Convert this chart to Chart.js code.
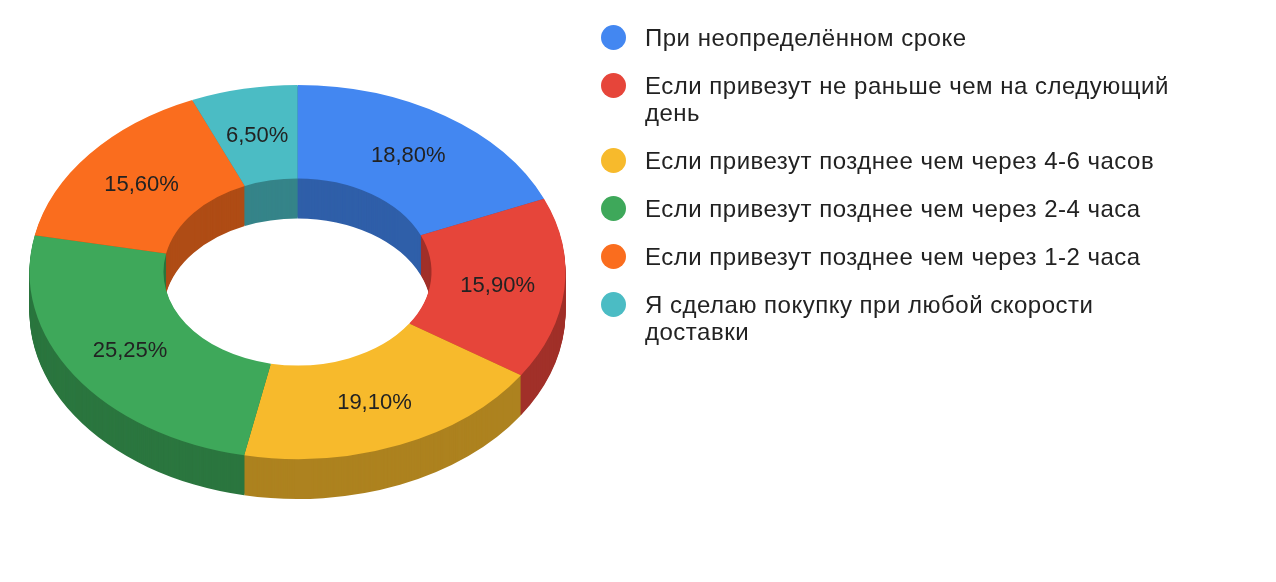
<!DOCTYPE html>
<html>
<head>
<meta charset="utf-8">
<script src="https://cdn.jsdelivr.net/npm/chart.js@4/dist/chart.umd.min.js"></script>
<style>
  html, body { margin: 0; padding: 0; background: #fff; }
  #wrap { position: relative; width: 1276px; height: 582px; overflow: hidden; }
  #chart { position: absolute; left: 0; top: 0; }
  #legend { position: absolute; left: 601px; top: 24px; font-family: "Liberation Sans", Arial, sans-serif; font-size: 24px; letter-spacing: 0.5px; color: #222; }
  .item { display: flex; align-items: flex-start; margin-bottom: 21px; }
  .dot { width: 25px; height: 25px; border-radius: 50%; margin-top: 1px; flex: none; }
  .txt { margin-left: 19px; width: 545px; line-height: 27px; }
</style>
</head>
<body>
<div id="wrap">
  <canvas id="chart" width="1276" height="582"></canvas>
  <div id="legend"></div>
</div>
<script>
// Данные
const labels = [
  "При неопределённом сроке",
  "Если привезут не раньше чем на следующий день",
  "Если привезут позднее чем через 4-6 часов",
  "Если привезут позднее чем через 2-4 часа",
  "Если привезут позднее чем через 1-2 часа",
  "Я сделаю покупку при любой скорости доставки"
];
const values = [18.80, 15.90, 19.10, 25.25, 15.60, 6.50];
const valueLabels = ["18,80%", "15,90%", "19,10%", "25,25%", "15,60%", "6,50%"];
const colors = ["#4387f1", "#e6453a", "#f7ba2c", "#3ea85a", "#fa6d1e", "#4bbcc4"];

// Параметры 3D
const tilt = 0.698;   // сжатие по вертикали
const depth = 40;     // высота боковой стенки

function darker(hex, f) {
  const n = parseInt(hex.slice(1), 16);
  const r = Math.round(((n >> 16) & 255) * f);
  const g = Math.round(((n >> 8) & 255) * f);
  const b = Math.round((n & 255) * f);
  return "rgb(" + r + "," + g + "," + b + ")";
}

// Легенда
const legendEl = document.getElementById("legend");
labels.forEach((l, i) => {
  const row = document.createElement("div");
  row.className = "item";
  row.innerHTML = '<div class="dot" style="background:' + colors[i] + '"></div><div class="txt"></div>';
  row.querySelector(".txt").textContent = l;
  legendEl.appendChild(row);
});

// Плагин: боковые стенки + сплющивание + подписи
const pie3d = {
  id: "pie3d",
  beforeDatasetsDraw(chart) {
    const ctx = chart.ctx;
    const arcs = chart.getDatasetMeta(0).data;
    ctx.save();
    for (let d = depth; d >= 1; d--) {
      arcs.forEach((a, i) => {
        const p = a.getProps(["x", "y", "startAngle", "endAngle", "innerRadius", "outerRadius"], true);
        ctx.beginPath();
        ctx.ellipse(p.x, p.y + d, p.outerRadius, p.outerRadius * tilt, 0, p.startAngle, p.endAngle);
        ctx.ellipse(p.x, p.y + d, p.innerRadius, p.innerRadius * tilt, 0, p.endAngle, p.startAngle, true);
        ctx.closePath();
        ctx.fillStyle = darker(colors[i], 0.7);
        ctx.fill();
      });
    }
    ctx.restore();

    const cy = arcs[0].y;
    ctx.save();
    ctx.translate(0, cy);
    ctx.scale(1, tilt);
    ctx.translate(0, -cy);
  },
  afterDatasetsDraw(chart) {
    const ctx = chart.ctx;
    ctx.restore();
    const arcs = chart.getDatasetMeta(0).data;
    ctx.save();
    ctx.font = '22px "Liberation Sans", Arial, sans-serif';
    ctx.fillStyle = "#222";
    ctx.textAlign = "center";
    ctx.textBaseline = "middle";
    arcs.forEach((a, i) => {
      const pos = a.tooltipPosition(true);
      const y = a.y + (pos.y - a.y) * tilt;
      ctx.fillText(valueLabels[i], pos.x, y + 1);
    });
    ctx.restore();
  }
};

new Chart(document.getElementById("chart"), {
  type: "doughnut",
  data: {
    labels: labels,
    datasets: [{
      data: values,
      backgroundColor: colors,
      borderWidth: 0,
      hoverOffset: 0
    }]
  },
  options: {
    responsive: false,
    animation: false,
    cutout: "50%",
    events: [],
    layout: { padding: { left: 29.5, top: 4, right: 710.5, bottom: 42 } },
    plugins: {
      legend: { display: false },
      tooltip: { enabled: false }
    }
  },
  plugins: [pie3d]
});
</script>
</body>
</html>
